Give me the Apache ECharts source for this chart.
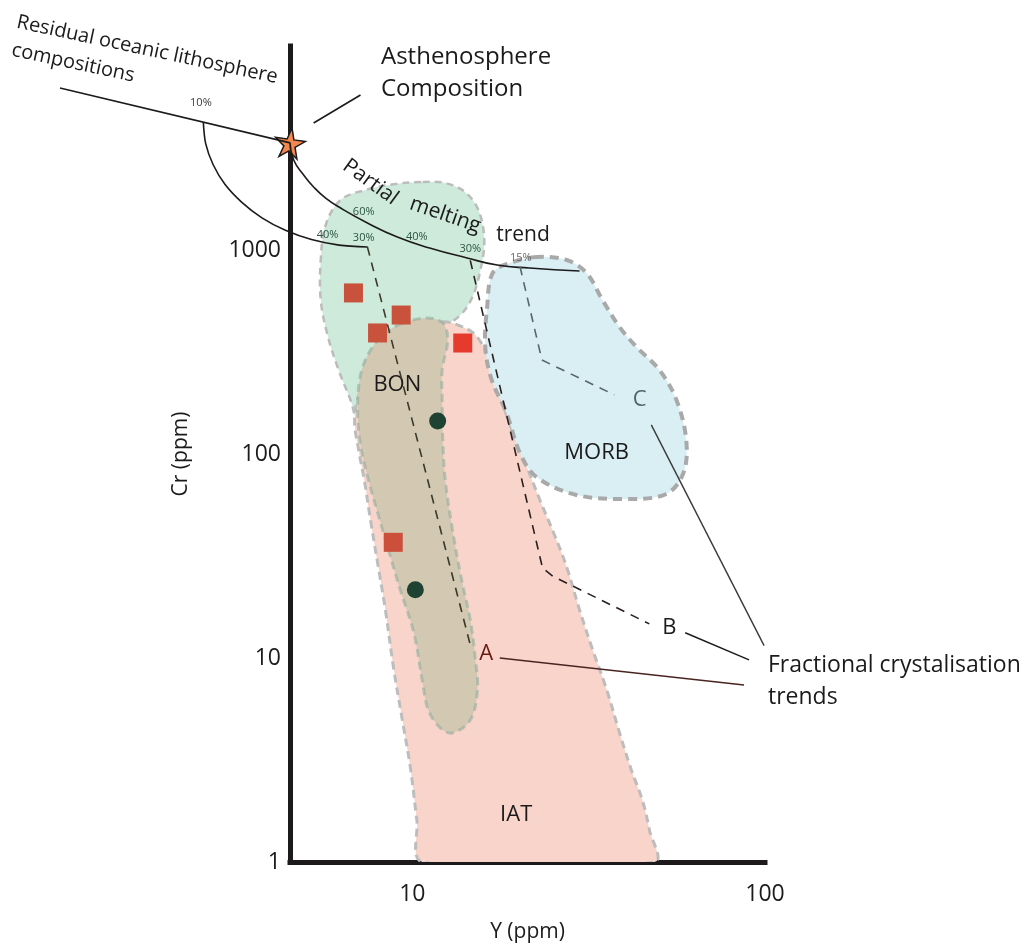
<!DOCTYPE html>
<html>
<head>
<meta charset="utf-8">
<script src="https://cdn.jsdelivr.net/npm/echarts@6/dist/echarts.min.js"></script>
<style>html,body{margin:0;background:#fff}#chart{width:1033px;height:951px}</style>
</head>
<body>
<div id="chart"></div>
<script>
// field outlines, points are [Y ppm, Cr ppm]
var greenField = [[10.7,2154],[12.4,2130],[14.1,1924],[15.4,1570],[16.0,1119],[15.6,798],[14.8,588],[13.7,480],[12.4,429],[9.87,362],[7.36,147],[7.04,139],[6.68,184],[6.18,258],[5.75,383],[5.50,569],[5.50,893],[5.68,1326],[6.26,1758],[7.36,1968],[8.96,2107]];
var iatField = [[12.2,444],[13.7,424],[15.1,383],[16.3,306],[17.4,218],[18.7,147],[20.5,98.9],[23.0,59.5],[25.3,40.1],[27.4,27.9],[29.8,17.2],[32.5,10.9],[35.6,6.97],[38.7,4.29],[41.8,2.82],[44.9,2.01],[47.0,1.44],[48.6,1.0],[10.7,1.0],[10.3,1.61],[9.87,2.92],[9.37,4.96],[8.84,9.03],[8.39,17.2],[8.01,27.9],[7.61,47.5],[7.31,74.6],[7.04,105],[6.86,147],[7.13,206],[8.12,306],[9.87,405]];
var bonField = [[9.25,434],[11.0,464],[12.2,439],[12.6,362],[12.15,258],[12.15,184],[12.2,117],[12.4,74.6],[13.0,42.4],[13.8,24.1],[14.6,15.4],[15.1,9.78],[15.3,6.97],[14.6,4.96],[13.0,4.29],[12.0,4.54],[11.1,5.56],[10.7,7.54],[10.1,13.3],[9.25,21.5],[8.56,33.8],[8.01,50.2],[7.51,74.6],[7.13,111],[7.00,164],[7.13,244],[7.61,323],[8.34,387]];
var morbField = [[22.5,924],[18.9,863],[16.9,771],[16.3,526],[16.1,335],[16.8,230],[18.5,159],[20.2,101],[22.5,77.1],[29.2,63.0],[40.5,60.2],[52.5,63.7],[58.7,80.7],[59.8,117],[56.1,184],[50.2,258],[43.2,335],[38.7,419],[34.6,569],[31.2,771],[27.4,893]];

// curves and trends
var residualLine = [[1.0,6220],[4.5,3350]];
var meltCurve = [[4.5,3350],[4.61,2762],[4.92,2333],[5.25,2037],[5.68,1798],[6.26,1606],[7.46,1357],[9.07,1158],[11.2,1023],[14.3,914],[17.4,844],[21.5,816],[29.8,789]];
var arc10 = [[2.55,4240],[2.59,3320],[2.72,2617],[2.94,2094],[3.28,1713],[3.74,1438],[4.36,1249],[5.17,1125],[6.19,1057],[7.46,1035]];
var trendA = [[7.46,1035],[14.6,11.6]];
var trendB = [[14.6,890],[23.4,27.6],[25.0,25.2],[47.0,14.7]];
var trendC = [[20.2,830],[23.3,289],[37.4,195]];
var leaderA = [[17.7,10.0],[87.2,7.37]];
var leaderB = [[59.4,13.3],[90.1,9.78]];
var leaderC = [[47.6,139],[99.4,11.5]];
var leaderAst = [[5.25,4196],[7.13,5750]];

// samples
var squares = [[6.81,616],[7.97,392],[9.3,480],[13.9,350],[8.83,36.9]];
var circles = [[11.8,145],[10.2,21.6]];
var star = [4.5,3350];

// in-plot text
var fieldLabels = [['BON',9.07,218],['MORB',33.3,102],['IAT',19.7,1.70]];
var pctLabels = [['10%',2.51,5260],['60%',7.28,1535],['40%',5.75,1185],['30%',7.28,1145],['40%',10.3,1158],['30%',14.6,1012],['15%',20.3,914]];
var trendLabels = [['A',16.2,10.5],['B',53.6,14.0],['C',44.1,184]];
var meltWords = [['Partial',7.61,2154],['melting',12.4,1485],['trend',20.6,1185]];

var xTicks = [10, 100];
var yTicks = [1, 10, 100, 1000];

var FONT = '"Open Sans", sans-serif';
var INK = '#1c1a1a';

// grid 0 carries the visible axes, grid 1 is the same frame widened to Y = 1
// so the lithosphere line and the 10% arc can run left of the Cr axis
function onWide(s) { s.xAxisIndex = 1; s.yAxisIndex = 1; return s; }

function field(points, fill, stroke, width, dash) {
    return {
        type: 'custom',
        clip: true,
        silent: true,
        data: [points[0]],
        renderItem: function (params, api) {
            var pts = points.map(function (p) { return api.coord(p); });
            return {
                type: 'polygon',
                shape: { points: pts, smooth: 0.35 },
                style: { fill: fill, stroke: stroke, lineWidth: width, lineDash: dash }
            };
        }
    };
}

function line(points, color, width, type, smooth) {
    return {
        type: 'line',
        data: points,
        clip: false,
        silent: true,
        showSymbol: false,
        smooth: smooth || false,
        lineStyle: { color: color, width: width, type: type || 'solid' }
    };
}

function textSeries(items, style, rotations) {
    return {
        type: 'scatter',
        clip: false,
        silent: true,
        symbolSize: 0,
        itemStyle: { opacity: 1 },
        data: items.map(function (t, i) {
            return {
                name: t[0],
                value: [t[1], t[2]],
                label: Object.assign({
                    show: true, position: 'inside', formatter: '{b}', opacity: 1,
                    fontFamily: FONT, rotate: rotations ? rotations[i] : 0
                }, Array.isArray(style) ? style[i] : style)
            };
        })
    };
}

function isTick(v, list) {
    return list.some(function (t) { return Math.abs(v - t) / t < 1e-6; });
}

var chart = echarts.init(document.getElementById('chart'));

var pctColors = ['#3a3a3a', '#2c5543', '#2c5543', '#2c5543', '#2c5543', '#2c5543', '#6a6a6a'];
var trendColors = ['#6b1a12', INK, '#4f6668'];
var squareColors = ['#c8523b', '#c8523b', '#c8523b', '#e63a2d', '#cb4f3a'];

var hiddenAxis = {
    show: false, type: 'log', logBase: 10,
    axisLine: { show: false }, axisTick: { show: false },
    axisLabel: { show: false }, splitLine: { show: false }
};

var wide0 = onWide(line(residualLine, INK, 1.6));
var wide1 = onWide(line(arc10, INK, 1.6, 'solid', 0.3));
var wide2 = onWide(textSeries([pctLabels[0]], { fontSize: 11, color: pctColors[0] }));

var option = {
    animation: false,
    backgroundColor: '#fff',
    grid: [
        { left: 290, right: 268, top: 46, bottom: 89 },
        { left: 60, right: 268, top: 46, bottom: 89 }
    ],
    xAxis: [{
        type: 'log', min: 4.5, max: 100, logBase: 10, gridIndex: 0,
        name: 'Y (ppm)', nameLocation: 'middle', nameGap: 60,
        nameTextStyle: { fontFamily: FONT, fontSize: 21, color: INK },
        axisLine: { lineStyle: { color: INK, width: 5, cap: 'square' } },
        axisTick: { show: false },
        splitLine: { show: false },
        axisLabel: {
            margin: 21, fontFamily: FONT, fontSize: 23, color: INK,
            showMinLabel: true, showMaxLabel: true,
            formatter: function (v) { return isTick(v, xTicks) ? String(Math.round(v)) : ''; }
        }
    }, Object.assign({}, hiddenAxis, { gridIndex: 1, min: 1, max: 100 })],
    yAxis: [{
        type: 'log', min: 1, max: 10000, logBase: 10, gridIndex: 0,
        name: 'Cr (ppm)', nameLocation: 'middle', nameGap: 98, nameRotate: 90,
        nameTextStyle: { fontFamily: FONT, fontSize: 21, color: INK },
        axisLine: { lineStyle: { color: INK, width: 5, cap: 'square' } },
        axisTick: { show: false },
        splitLine: { show: false },
        axisLabel: {
            margin: 9, fontFamily: FONT, fontSize: 23, color: INK,
            formatter: function (v) { return isTick(v, yTicks) ? String(Math.round(v)) : ''; }
        }
    }, Object.assign({}, hiddenAxis, { gridIndex: 1, min: 1, max: 10000 })],
    series: [
        field(greenField, '#cdeadb', '#bcbcbc', 2.5, [7, 5]),
        field(iatField, '#f9d4ca', '#bdbdbd', 3, [8, 5]),
        field(bonField, '#d3c9b3', 'rgba(140,170,155,0.55)', 3, [8, 5]),
        field(morbField, '#daeff4', '#a9a9a9', 4, [9, 6]),

        wide0,
        wide1,
        line(meltCurve, INK, 1.6, 'solid', 0.5),
        line(trendA, '#3b3a2a', 1.6, [9, 7]),
        line(trendB, '#2a2020', 1.6, [9, 7]),
        line(trendC, '#55676a', 1.6, [9, 7]),
        line(leaderA, '#4a2420', 1.4),
        line(leaderB, INK, 1.4),
        line(leaderC, '#3a3a3a', 1.4),
        line(leaderAst, INK, 1.6),

        {
            type: 'scatter', silent: true, clip: false,
            symbol: 'rect', symbolSize: 19,
            data: squares.map(function (p, i) {
                return { value: p, itemStyle: { color: squareColors[i], opacity: 1 } };
            })
        },
        {
            type: 'scatter', silent: true, clip: false,
            symbol: 'circle', symbolSize: 17,
            itemStyle: { color: '#1f4332', opacity: 1 },
            data: circles
        },
        {
            type: 'scatter', silent: true, clip: false,
            symbol: 'path://M50,0 L61,35 L98,35 L68,57 L79,91 L50,70 L21,91 L32,57 L2,35 L39,35 Z',
            symbolSize: 30, symbolRotate: -8,
            itemStyle: { color: '#f4884c', borderColor: INK, borderWidth: 1.5, opacity: 1 },
            data: [star]
        },

        textSeries(fieldLabels, { fontSize: 22, color: INK }),
        textSeries(pctLabels.slice(1), pctColors.slice(1).map(function (c) { return { fontSize: 11, color: c }; })),
        wide2,
        textSeries(trendLabels, trendColors.map(function (c) { return { fontSize: 22, color: c }; })),
        textSeries(meltWords, { fontSize: 21, color: INK }, [-36, -19, 0])
    ],
    graphic: [
        { type: 'text', x: 17, y: 22, rotation: -0.21,
          style: { text: 'Residual oceanic lithosphere', font: '20px ' + FONT, fill: INK, verticalAlign: 'middle' } },
        { type: 'text', x: 12, y: 50, rotation: -0.21,
          style: { text: 'compositions', font: '20px ' + FONT, fill: INK, verticalAlign: 'middle' } },
        { type: 'text', x: 381, y: 57,
          style: { text: 'Asthenosphere', font: '24px ' + FONT, fill: INK, verticalAlign: 'middle' } },
        { type: 'text', x: 381, y: 89,
          style: { text: 'Composition', font: '24px ' + FONT, fill: INK, verticalAlign: 'middle' } },
        { type: 'text', x: 768, y: 665,
          style: { text: 'Fractional crystalisation', font: '23px ' + FONT, fill: INK, verticalAlign: 'middle' } },
        { type: 'text', x: 768, y: 697,
          style: { text: 'trends', font: '23px ' + FONT, fill: INK, verticalAlign: 'middle' } }
    ]
};

chart.setOption(option);
</script>
</body>
</html>
